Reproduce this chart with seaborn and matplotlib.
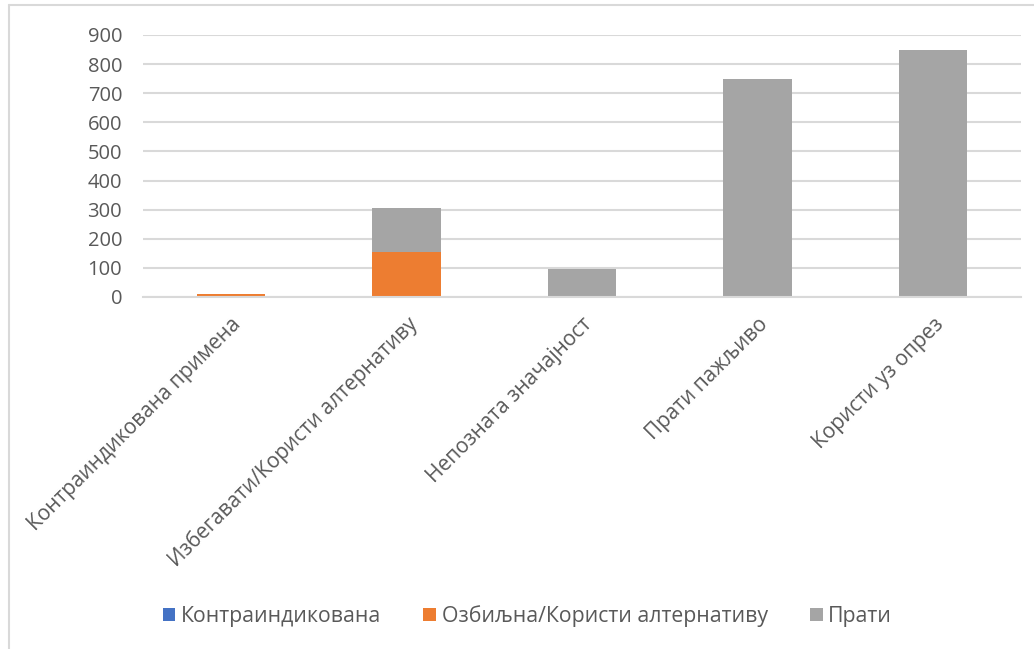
import matplotlib
matplotlib.use("Agg")
import matplotlib.pyplot as plt
from matplotlib.patches import Patch
from matplotlib.lines import Line2D
import numpy as np
import pandas as pd
import seaborn as sns

categories = ["Контраиндикована примена", "Избегавати/Користи алтернативу",
              "Непозната значајност", "Прати пажљиво", "Користи уз опрез"]
contraindicated = [0, 0, 0, 0, 0]
serious = [10, 155, 0, 0, 0]
monitor = [0, 150, 97, 750, 850]
series_names = ["Контраиндикована", "Озбиљна/Користи алтернативу", "Прати"]
colors = ["#4472C4", "#ED7D31", "#A5A5A5"]
yticks = [0, 100, 200, 300, 400, 500, 600, 700, 800, 900]

sns.set_theme(style="white")
plt.rcParams["font.family"] = ["Open Sans", "DejaVu Sans"]
text_color = "#595959"
grid_color = "#D9D9D9"

df = pd.DataFrame({
    "category": categories,
    "c": contraindicated,
    "s": serious,
    "m": monitor,
})
# cumulative heights for stacking (drawn back to front)
df["top_m"] = df["c"] + df["s"] + df["m"]
df["top_s"] = df["c"] + df["s"]
df["top_c"] = df["c"]

fig = plt.figure(figsize=(10.34, 6.49), dpi=100)
ax = fig.add_axes([143 / 1034, 1 - 297 / 649, (1021 - 143) / 1034, (297 - 35) / 649])

for col, color in zip(["top_m", "top_s", "top_c"], colors[::-1]):
    sns.barplot(data=df, x="category", y=col, color=color, width=0.39,
                saturation=1, ax=ax, linewidth=0, order=categories)

ax.set_ylim(0, 900)
ax.set_yticks(yticks)
ax.set_yticklabels([str(v) for v in yticks], fontsize=14.5, color=text_color)
ax.set_xlim(-0.5, len(categories) - 0.5)
ax.yaxis.grid(True, color=grid_color, linewidth=1.5)
ax.set_axisbelow(True)
for side in ["top", "right", "left"]:
    ax.spines[side].set_visible(False)
ax.spines["bottom"].set_color(grid_color)
ax.spines["bottom"].set_linewidth(1.5)
ax.tick_params(axis="y", length=0, pad=15)
ax.tick_params(axis="x", length=0, pad=12)
ax.set_xlabel("")
ax.set_ylabel("")
ax.set_xticks(range(len(categories)))
ax.set_xticklabels(categories, rotation=45, ha="right", va="top",
                   rotation_mode="anchor", fontsize=15, color=text_color)

handles = [Patch(facecolor=c, edgecolor="none") for c in colors]
fig.legend(handles, series_names, loc="center", bbox_to_anchor=(0.51, 0.051),
           ncol=3, frameon=False, fontsize=15.3, labelcolor=text_color,
           handlelength=0.6, handleheight=0.6, handletextpad=0.25, columnspacing=2.0)

# chart frame
fig.add_artist(Line2D([9 / 1034, 9 / 1034], [0, 1 - 5 / 649], transform=fig.transFigure,
                      color=grid_color, linewidth=1.5))
fig.add_artist(Line2D([9 / 1034, 1], [1 - 5 / 649, 1 - 5 / 649], transform=fig.transFigure,
                      color=grid_color, linewidth=1.5))

fig.savefig("out.png", dpi=100, facecolor="white")
